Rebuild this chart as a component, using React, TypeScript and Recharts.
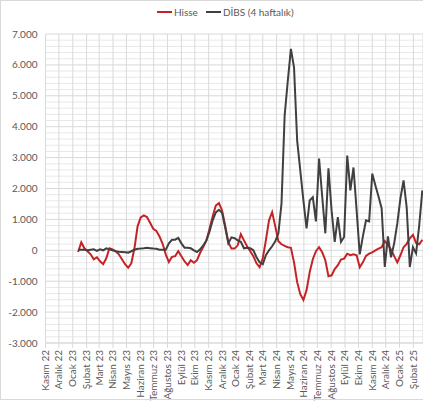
import { LineChart, Line, XAxis, YAxis, CartesianGrid } from 'recharts';

// month labels on the date axis (first day of each month from Nov 2022)
const monthLabels = [
  'Kasım 22', 'Aralık 22', 'Ocak 23', 'Şubat 23', 'Mart 23', 'Nisan 23', 'Mayıs 23',
  'Haziran 23', 'Temmuz 23', 'Ağustos 23', 'Eylül 23', 'Ekim 23', 'Kasım 23', 'Aralık 23',
  'Ocak 24', 'Şubat 24', 'Mart 24', 'Nisan 24', 'Mayıs 24', 'Haziran 24', 'Temmuz 24',
  'Ağustos 24', 'Eylül 24', 'Ekim 24', 'Kasım 24', 'Aralık 24', 'Ocak 25', 'Şubat 25',
];

// weekly observations, first one on 13 Jan 2023
const hisse = [
  -55, 260, 65, -30, -130, -290, -225, -355, -450, -260, 65, 30, -30, -130, -290, -450,
  -565, -420, 65, 775, 1065, 1130, 1075, 890, 695, 630, 450, 210, -130, -380, -210, -190,
  -30, -190, -355, -480, -320, -400, -320, -80, 110, 320, 695, 1100, 1450, 1525, 1290, 800,
  260, 55, 55, 160, 520, 320, 130, -30, -190, -420, -550, -260, 320, 970, 1235, 775,
  290, 195, 145, 100, 80, -390, -1030, -1420, -1610, -1290, -710, -290, -30, 100, -65, -320,
  -840, -810, -610, -480, -300, -270, -110, -160, -130, -160, -550, -390, -180, -110, -65, 0,
  55, 100, 300, 180, 30, -190, -390, -160, 100, 210, 390, 500, 240, 195, 340,
];

const dibs = [
  20, 20, 15, 0, 15, 30, -20, 30, 0, 65, 30, 0, -30, -50, -55, -65,
  -75, -30, 20, 50, 55, 65, 85, 70, 55, 50, 20, 20, 20, 225, 340, 345,
  400, 225, 85, 85, 65, 0, -55, 30, 160, 320, 610, 970, 1225, 1310, 1210, 740,
  225, 420, 390, 320, 275, 65, 80, 65, 0, -225, -390, -450, -160, 0, 130, 290,
  550, 1520, 4360, 5480, 6520, 5910, 3550, 2580, 1610, 710, 1610, 1720, 935, 2970, 1740, 550,
  2650, 1290, 270, 1075, 270, 430, 3065, 1940, 2680, 1290, -130, 450, 970, 935, 2480, 2100,
  1740, 1355, -540, 450, -225, 225, 870, 1680, 2260, 1390, -540, 100, -100, 800, 1940,
];

const yTicks = [-3000, -2000, -1000, 0, 1000, 2000, 3000, 4000, 5000, 6000, 7000];
const minorTicks = [
  -2800, -2600, -2400, -2200, -1800, -1600, -1400, -1200, -800, -600, -400, -200,
  200, 400, 600, 800, 1200, 1400, 1600, 1800, 2200, 2400, 2600, 2800,
  3200, 3400, 3600, 3800, 4200, 4400, 4600, 4800, 5200, 5400, 5600, 5800, 6200, 6400, 6600, 6800,
];

const DAY = 86400000;
const axisStart = Date.UTC(2022, 10, 1);
const firstObs = Date.UTC(2023, 0, 13);

const monthTicks = monthLabels.map((_, i) => (Date.UTC(2022, 10 + i, 1) - axisStart) / DAY);
const data = hisse.map((h, i) => ({
  day: (firstObs - axisStart) / DAY + 7 * i,
  hisse: h,
  dibs: dibs[i],
}));

const font = 'Lato, "Open Sans", sans-serif';
const textColor = '#595959';
const RED = '#C42326';
const DARK = '#404040';

const fmtY = (v: number) => (v === 0 ? '0' : (v / 1000).toFixed(3));

const MonthTick = (props: any) => {
  const { x, y, payload } = props;
  const idx = monthTicks.indexOf(payload.value);
  return (
    <text
      x={0}
      y={0}
      transform={`translate(${x + 3.5},${y}) rotate(-90)`}
      textAnchor="end"
      fontSize={10}
      fill={textColor}
      fontFamily={font}
    >
      {monthLabels[idx]}
    </text>
  );
};

export default function App() {
  return (
    <div style={{ position: 'relative', width: 423, height: 402, fontFamily: font, background: '#fff' }}>
      <style>{'body{margin:0}'}</style>

      {/* legend */}
      <div style={{ position: 'absolute', top: 6, left: 157, display: 'flex', alignItems: 'center', fontSize: 10, color: textColor }}>
        <span style={{ width: 15, height: 2, background: RED, display: 'inline-block' }} />
        <span style={{ marginLeft: 2 }}>Hisse</span>
        <span style={{ width: 15, height: 2, background: DARK, display: 'inline-block', marginLeft: 8 }} />
        <span style={{ marginLeft: 2 }}>DİBS (4 haftalık)</span>
      </div>

      <LineChart width={423} height={402} data={data} margin={{ top: 34, right: 0, bottom: 4, left: 0.5 }}>
        <CartesianGrid
          vertical={false}
          stroke="#e8e8e8"
          horizontalCoordinatesGenerator={({ offset }: any) =>
            minorTicks.map((t) => offset.top + (offset.height * (7000 - t)) / 10000)
          }
        />
        <CartesianGrid stroke="#d9d9d9" />
        <XAxis
          dataKey="day"
          type="number"
          domain={[0, 844.5]}
          allowDataOverflow
          ticks={monthTicks}
          interval={0}
          height={55}
          tickSize={5}
          tickMargin={2}
          axisLine={{ stroke: '#d9d9d9' }}
          tickLine={{ stroke: '#d9d9d9' }}
          tick={<MonthTick />}
        />
        <YAxis
          domain={[-3000, 7000]}
          ticks={yTicks}
          interval={0}
          width={45}
          axisLine={false}
          tickLine={false}
          tickFormatter={fmtY}
          tick={{ fontSize: 10, fill: textColor, fontFamily: font }}
        />
        <Line type="linear" dataKey="hisse" stroke={RED} strokeWidth={2} dot={false} isAnimationActive={false} />
        <Line type="linear" dataKey="dibs" stroke={DARK} strokeWidth={2} dot={false} isAnimationActive={false} />
      </LineChart>

      {/* outer chart frame */}
      <div style={{ position: 'absolute', top: 0, left: 0, width: 423, height: 400, boxSizing: 'border-box', borderTop: '1px solid #d9d9d9', borderLeft: '1px solid #d9d9d9', borderBottom: '1px solid #d9d9d9', pointerEvents: 'none' }} />
    </div>
  );
}
